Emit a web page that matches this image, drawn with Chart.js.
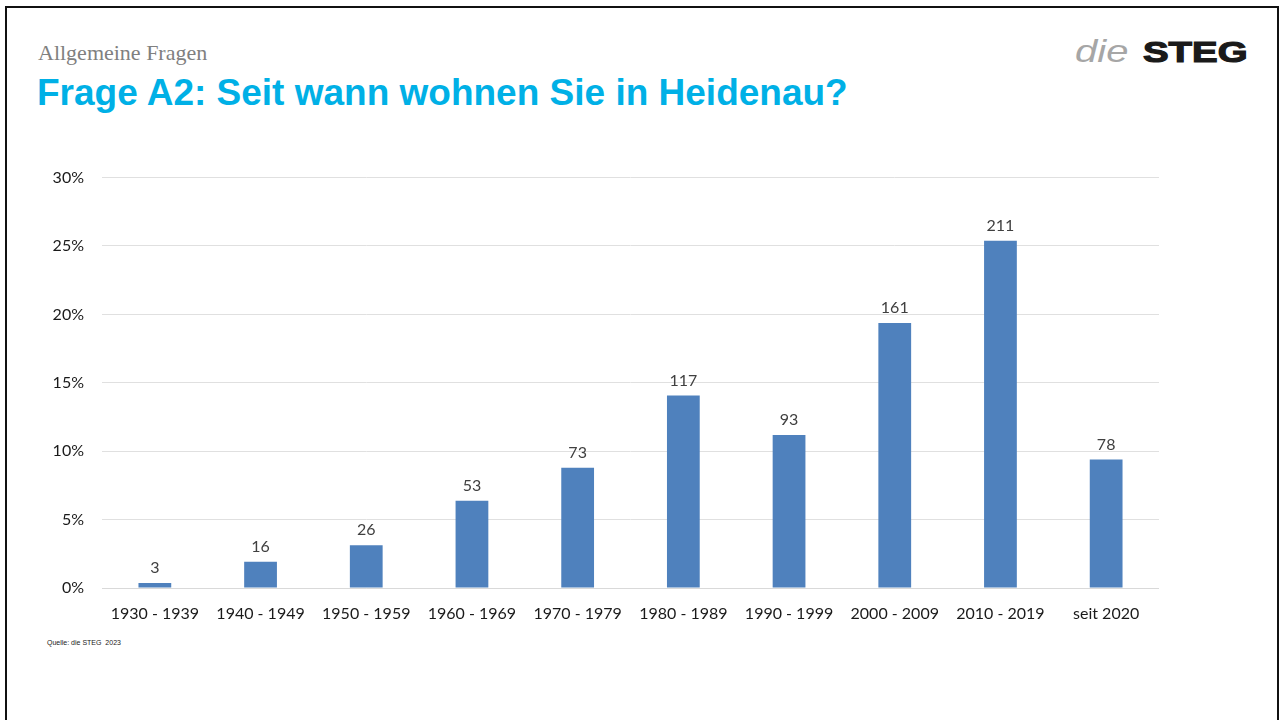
<!DOCTYPE html>
<html lang="de">
<head>
<meta charset="utf-8">
<title>Frage A2: Seit wann wohnen Sie in Heidenau?</title>
<script src="https://cdn.jsdelivr.net/npm/chart.js@4/dist/chart.umd.min.js"></script>
<style>
  html, body { margin: 0; padding: 0; background: #fff; }
  body { width: 1282px; height: 720px; position: relative; overflow: hidden; }
  .frame { position: absolute; left: 5px; top: 6px; width: 1274px; height: 730px; border: 2px solid #111; box-sizing: border-box; }
  .kicker { position: absolute; left: 38px; top: 40px; font-family: "Liberation Serif", serif; font-size: 22px; color: #808080; }
  .title { position: absolute; left: 37px; top: 72px; font-family: "Liberation Sans", Arial, sans-serif; font-weight: bold; font-size: 37px; color: #00b0e6; white-space: nowrap; }
  .logo-die { position: absolute; left: 1075px; top: 33px; font-family: "Liberation Sans", Arial, sans-serif; font-size: 32px; font-style: italic; color: #a6a6a6; transform: scaleX(1.25); transform-origin: left center; }
  .logo-steg { position: absolute; left: 1143px; top: 35px; font-family: "Liberation Sans", Arial, sans-serif; font-size: 30px; font-weight: bold; color: #1a1a1a; -webkit-text-stroke: 1.2px #1a1a1a; transform: scaleX(1.28); transform-origin: left center; }
  .source { position: absolute; left: 47px; top: 639px; font-family: "Liberation Sans", Arial, sans-serif; font-size: 7px; color: #222; }
  .chart-box { position: absolute; left: 40px; top: 150px; width: 1119px; height: 478px; }
</style>
</head>
<body>
<div class="frame"></div>
<div class="kicker">Allgemeine Fragen</div>
<div class="title">Frage A2: Seit wann wohnen Sie in Heidenau?</div>
<div class="logo-die">die</div>
<div class="logo-steg">STEG</div>
<div class="chart-box"><canvas id="chart"></canvas></div>
<div class="source">Quelle: die STEG&nbsp; 2023</div>

<script>
// Wohndauer in Heidenau: Anzahl Nennungen je Zeitraum
const categories = ['1930 - 1939', '1940 - 1949', '1950 - 1959', '1960 - 1969', '1970 - 1979',
  '1980 - 1989', '1990 - 1999', '2000 - 2009', '2010 - 2019', 'seit 2020'];
const counts = [3, 16, 26, 53, 73, 117, 93, 161, 211, 78];
const yTicks = [0, 5, 10, 15, 20, 25, 30];

// Anteil in Prozent an allen Nennungen
const total = counts.reduce((a, b) => a + b, 0);
const shares = counts.map(c => c / total * 100);

const labelFont = '"Lato", "Noto Sans", sans-serif';

// Zahl der Nennungen über jedem Balken
const countLabels = {
  id: 'countLabels',
  afterDatasetsDraw(chart) {
    const ctx = chart.ctx;
    const meta = chart.getDatasetMeta(0);
    ctx.save();
    ctx.font = '16px ' + labelFont;
    ctx.fillStyle = '#404040';
    ctx.textAlign = 'center';
    ctx.textBaseline = 'bottom';
    meta.data.forEach((bar, i) => {
      ctx.fillText(String(counts[i]), bar.x, bar.y - 7);
    });
    ctx.restore();
  }
};

new Chart(document.getElementById('chart').getContext('2d'), {
  type: 'bar',
  data: {
    labels: categories,
    datasets: [{
      data: shares,
      backgroundColor: '#4f81bd',
      borderWidth: 0,
      categoryPercentage: 1,
      barPercentage: 0.31
    }]
  },
  options: {
    responsive: true,
    maintainAspectRatio: false,
    animation: false,
    layout: { padding: { top: 10, right: 0, bottom: 0, left: 0 } },
    plugins: {
      legend: { display: false },
      tooltip: { enabled: false }
    },
    scales: {
      x: {
        grid: { display: false },
        border: { color: '#d9d9d9', width: 1 },
        ticks: { color: '#1a1a1a', font: { family: labelFont, size: 16 }, padding: 8, maxRotation: 0 },
        afterFit(scale) { scale.height = 40; }
      },
      y: {
        min: 0,
        max: 30,
        afterBuildTicks(scale) { scale.ticks = yTicks.map(v => ({ value: v })); },
        grid: { color: '#e0e0e0', drawTicks: false },
        border: { display: false },
        ticks: {
          color: '#1a1a1a',
          font: { family: labelFont, size: 16 },
          padding: 18,
          callback: v => v + '%'
        },
        afterFit(scale) { scale.width = 62; }
      }
    }
  },
  plugins: [countLabels]
});
</script>
</body>
</html>
